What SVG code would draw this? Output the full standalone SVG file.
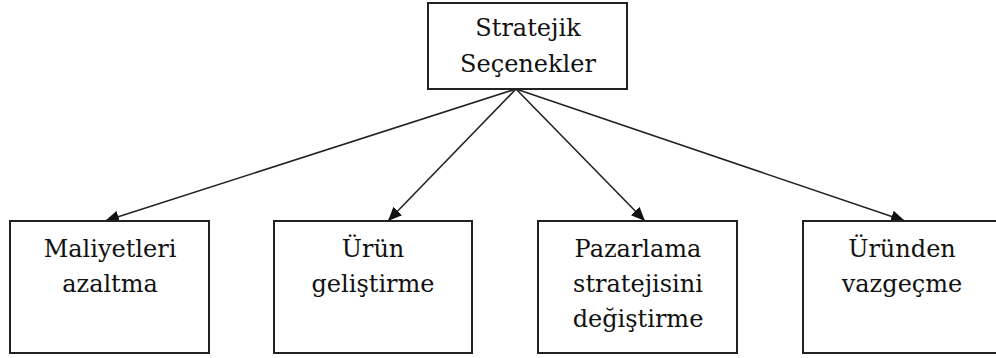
<svg xmlns="http://www.w3.org/2000/svg" width="996" height="358" viewBox="0 0 996 358">
<style>
.box{fill:#fff;stroke:#222;stroke-width:2}
.t{font-family:"DejaVu Serif","Liberation Serif",serif;font-size:24px;fill:#111;text-anchor:middle}
.c{stroke:#222;stroke-width:1.6;fill:none;marker-end:url(#ah)}
</style>
<defs>
<marker id="ah" viewBox="0 0 14 12" refX="14" refY="6" markerWidth="14" markerHeight="12" markerUnits="userSpaceOnUse" orient="auto">
<path d="M0,0 L14,6 L0,12 z" fill="#111"/>
</marker>
</defs>
<rect width="996" height="358" fill="#fff"/>
<g id="connectors">
<line class="c" x1="516" y1="89" x2="105" y2="221"/>
<line class="c" x1="516" y1="89" x2="388" y2="221"/>
<line class="c" x1="516" y1="89" x2="645" y2="221"/>
<line class="c" x1="516" y1="89" x2="905" y2="221"/>
</g>
<g id="root">
<rect class="box" x="428" y="3" width="199" height="86"/>
<text class="t" x="528" y="36">Stratejik</text>
<text class="t" x="528" y="72">Seçenekler</text>
</g>
<g id="n1">
<rect class="box" x="10" y="221" width="199" height="132"/>
<text class="t" x="110" y="257">Maliyetleri</text>
<text class="t" x="110" y="292">azaltma</text>
</g>
<g id="n2">
<rect class="box" x="274" y="221" width="198" height="132"/>
<text class="t" x="373" y="257">Ürün</text>
<text class="t" x="373" y="292">geliştirme</text>
</g>
<g id="n3">
<rect class="box" x="538" y="221" width="199" height="132"/>
<text class="t" x="638" y="257">Pazarlama</text>
<text class="t" x="638" y="292">stratejisini</text>
<text class="t" x="638" y="327">değiştirme</text>
</g>
<g id="n4">
<rect class="box" x="803" y="221" width="199" height="132"/>
<text class="t" x="902" y="257">Üründen</text>
<text class="t" x="902" y="292">vazgeçme</text>
</g>
</svg>
